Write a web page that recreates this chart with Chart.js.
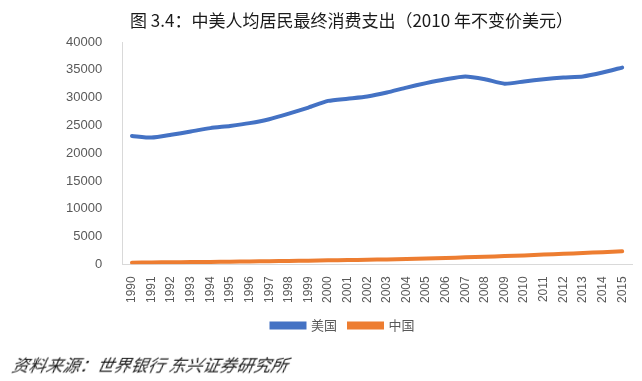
<!DOCTYPE html>
<html>
<head>
<meta charset="utf-8">
<script src="https://cdn.jsdelivr.net/npm/chart.js@4"></script>
<style>
  html, body { margin: 0; padding: 0; background: #fff; }
  #wrap { position: relative; width: 642px; height: 381px; overflow: hidden; }
  #title { position: absolute; left: 130px; top: 9px; font-family: "Noto Sans CJK SC", sans-serif; font-size: 17px; color: #1a1a1a; white-space: nowrap; line-height: 22px; }
  #source { position: absolute; left: 10px; top: 354px; font-family: "Noto Sans CJK SC", sans-serif; font-size: 17px; font-style: italic; color: #1a1a1a; white-space: nowrap; line-height: 22px; transform: skewX(-12deg); transform-origin: left bottom; }
  canvas { position: absolute; left: 0; top: 0; }
</style>
</head>
<body>
<div id="wrap">
  <canvas id="c" width="642" height="381"></canvas>
  <div id="title">图 3.4：中美人均居民最终消费支出（2010 年不变价美元）</div>
  <div id="source">资料来源：世界银行 东兴证券研究所</div>
</div>
<script>
const years = ["1990","1991","1992","1993","1994","1995","1996","1997","1998","1999","2000","2001","2002","2003","2004","2005","2006","2007","2008","2009","2010","2011","2012","2013","2014","2015"];
const usValues = [23100,22800,23300,23900,24500,24900,25400,26100,27100,28200,29400,29800,30200,30900,31800,32600,33300,33800,33300,32500,32900,33300,33600,33800,34500,35400];
const cnValues = [300,330,370,400,430,470,520,560,600,650,710,760,820,880,950,1030,1130,1250,1360,1480,1600,1760,1900,2030,2180,2340];
const seriesNames = ["美国","中国"];
const yTicks = {min:0, max:40000, step:5000};

const gray = "#595959";
new Chart(document.getElementById("c"), {
  type: "line",
  data: {
    labels: years,
    datasets: [
      { label: seriesNames[0], data: usValues, borderColor: "#4472C4", backgroundColor: "#4472C4", borderWidth: 4, pointRadius: 0, tension: 0.2, borderCapStyle: "round" },
      { label: seriesNames[1], data: cnValues, borderColor: "#ED7D31", backgroundColor: "#ED7D31", borderWidth: 4, pointRadius: 0, tension: 0.2, borderCapStyle: "round" }
    ]
  },
  options: {
    responsive: false,
    animation: false,
    layout: { padding: { top: 42, left: 54, right: 10, bottom: 39 } },
    plugins: {
      legend: {
        position: "bottom",
        labels: { boxWidth: 33, boxHeight: 4, color: gray, font: { family: "Noto Sans CJK SC", size: 13 }, padding: 12 }
      },
      tooltip: { enabled: false }
    },
    scales: {
      x: {
        offset: true,
        grid: { display: false },
        border: { color: "#d9d9d9" },
        ticks: { color: gray, maxRotation: 90, minRotation: 90, font: { family: "Liberation Sans", size: 12 }, autoSkip: false, padding: 4 }
      },
      y: {
        min: yTicks.min, max: yTicks.max,
        grid: { display: false },
        border: { color: "#d9d9d9" },
        ticks: { stepSize: yTicks.step, color: gray, font: { family: "Liberation Sans", size: 13 }, padding: 12, callback: v => String(v) }
      }
    }
  }
});
</script>
</body>
</html>
